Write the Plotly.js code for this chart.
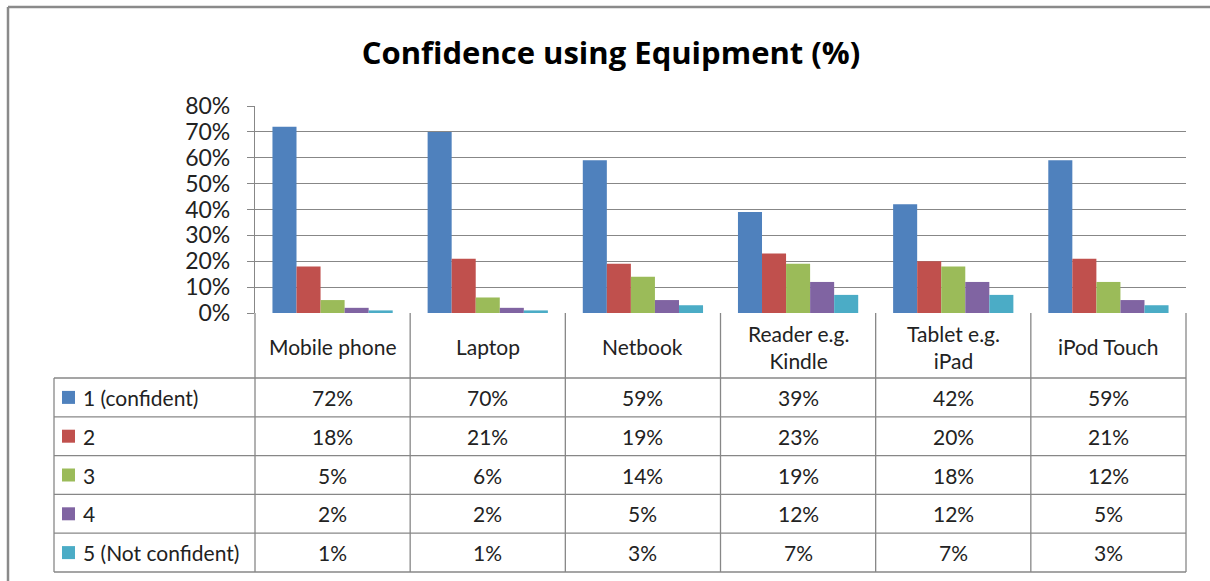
<!DOCTYPE html>
<html>
<head>
<meta charset="utf-8">
<script src="https://cdn.plot.ly/plotly-3.0.1.min.js"></script>
<style>html,body{margin:0;padding:0;background:#fff;}#chart{width:1210px;height:581px;}</style>
</head>
<body>
<div id="chart"></div>
<script>
// ---- data ----
const categories = ["Mobile phone", "Laptop", "Netbook", "Reader e.g. Kindle", "Tablet e.g. iPad", "iPod Touch"];
const categoryLabels = ["Mobile phone", "Laptop", "Netbook", "Reader e.g.<br>Kindle", "Tablet e.g.<br>iPad", "iPod Touch"];
const seriesNames = ["1 (confident)", "2", "3", "4", "5 (Not confident)"];
const s1 = [0.72, 0.70, 0.59, 0.39, 0.42, 0.59];
const s2 = [0.18, 0.21, 0.19, 0.23, 0.20, 0.21];
const s3 = [0.05, 0.06, 0.14, 0.19, 0.18, 0.12];
const s4 = [0.02, 0.02, 0.05, 0.12, 0.12, 0.05];
const s5 = [0.01, 0.01, 0.03, 0.07, 0.07, 0.03];
const seriesValues = [s1, s2, s3, s4, s5];
const yTicks = [0, 0.1, 0.2, 0.3, 0.4, 0.5, 0.6, 0.7, 0.8];

const colors = ["#4F81BD", "#C0504D", "#9BBB59", "#8064A2", "#4BACC6"];
const FONT = "Lato, 'Open Sans', sans-serif";

// plot area geometry (px)
const W = 1210, H = 581;
const L = 255, R = 1186, T = 106, B = 313;
const pw = R - L, ph = B - T;
const px2x = p => (p - L) / pw;
const px2y = p => (B - p) / ph;

const traces = seriesValues.map((vals, i) => ({
  type: "bar",
  x: categories,
  y: vals,
  name: seriesNames[i],
  marker: {color: colors[i], line: {width: 0}},
  hoverinfo: "x+y+name"
}));

const gridCol = "#878787";
const shapes = [];
const annotations = [];

// outer chart border (left & top)
shapes.push({type: "line", xref: "paper", yref: "paper", x0: px2x(8), x1: px2x(1215), y0: px2y(7), y1: px2y(7), line: {color: "#8a8a8a", width: 2.5}});
shapes.push({type: "line", xref: "paper", yref: "paper", x0: px2x(8), x1: px2x(8), y0: px2y(7), y1: px2y(590), line: {color: "#8a8a8a", width: 2.5}});

// data table geometry
const rowTop = 378, rowH = 38.8;
const tableLeft = 54;
const nRows = seriesNames.length;
const tableBottom = rowTop + nRows * rowH;
const colW = pw / categories.length;

// vertical lines at category boundaries
for (let c = 0; c <= categories.length; c++) {
  const xp = L + c * colW;
  shapes.push({type: "line", xref: "paper", yref: "paper", x0: px2x(xp), x1: px2x(xp), y0: px2y(B), y1: px2y(tableBottom), line: {color: gridCol, width: 1.3}});
}
// left vertical line of legend column
shapes.push({type: "line", xref: "paper", yref: "paper", x0: px2x(tableLeft), x1: px2x(tableLeft), y0: px2y(rowTop), y1: px2y(tableBottom), line: {color: gridCol, width: 1.3}});
// horizontal lines
for (let r = 0; r <= nRows; r++) {
  const yp = rowTop + r * rowH;
  shapes.push({type: "line", xref: "paper", yref: "paper", x0: px2x(tableLeft), x1: px2x(R), y0: px2y(yp), y1: px2y(yp), line: {color: gridCol, width: 1.3}});
}

const TF = {family: FONT, size: 21, color: "#222"};

// header labels
categories.forEach((c, i) => {
  annotations.push({xref: "x", yref: "paper", x: c, y: px2y(346.5), text: categoryLabels[i], showarrow: false,
    font: TF, xanchor: "center", yanchor: "middle", align: "center"});
});

// rows: legend key + name + values
seriesNames.forEach((n, r) => {
  const yc = rowTop + (r + 0.5) * rowH;
  shapes.push({type: "rect", xref: "paper", yref: "paper", x0: px2x(62), x1: px2x(75), y0: px2y(yc - 6.5), y1: px2y(yc + 6.5), fillcolor: colors[r], line: {width: 0}});
  annotations.push({xref: "paper", yref: "paper", x: px2x(81), y: px2y(yc), text: n, showarrow: false,
    font: TF, xanchor: "left", yanchor: "middle"});
  seriesValues[r].forEach((v, i) => {
    annotations.push({xref: "x", yref: "paper", x: categories[i], y: px2y(yc), text: Math.round(v * 100) + "%", showarrow: false,
      font: TF, xanchor: "center", yanchor: "middle"});
  });
});

const layout = {
  width: W, height: H,
  margin: {l: L, r: W - R, t: T, b: H - B, pad: 0},
  paper_bgcolor: "#fff", plot_bgcolor: "#fff",
  showlegend: false,
  barmode: "group",
  bargap: 0.225,
  bargroupgap: 0,
  title: {text: "Confidence using Equipment (%)", x: 611 / W, xref: "container", xanchor: "center", y: 1 - 53 / H, yref: "container", yanchor: "middle",
    font: {family: "'Open Sans', Lato, sans-serif", size: 31, color: "#000", weight: "bold"}},
  xaxis: {type: "category", showticklabels: false, showgrid: false, zeroline: false, showline: false, ticks: "", fixedrange: true},
  yaxis: {range: [0, 0.8], tickvals: yTicks, tickformat: ".0%", showgrid: true, gridcolor: gridCol, gridwidth: 1.3,
    zeroline: false, showline: true, linecolor: gridCol, linewidth: 1.3, ticks: "outside", ticklen: 7, tickcolor: gridCol, tickwidth: 1.3,
    tickfont: {family: FONT, size: 23, color: "#222"}, ticklabelstandoff: 12, fixedrange: true},
  shapes: shapes,
  annotations: annotations
};

Plotly.newPlot("chart", traces, layout, {displayModeBar: false});
</script>
</body>
</html>
